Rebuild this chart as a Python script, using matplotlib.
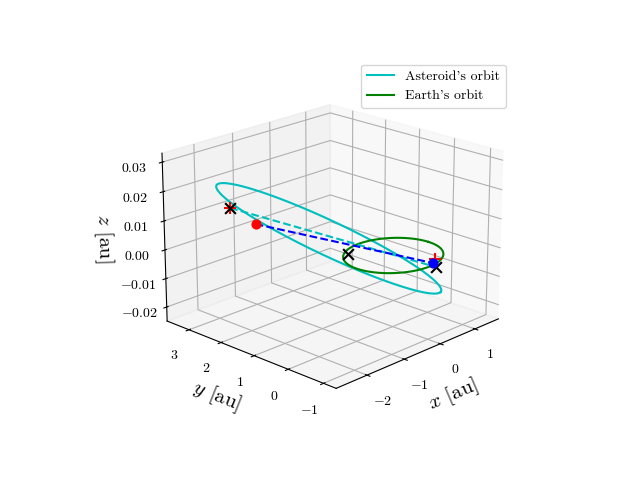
import numpy as np
import matplotlib.pyplot as plt

plt.rcParams["mathtext.fontset"] = "cm"
plt.rcParams["font.family"] = "serif"
plt.rcParams["font.serif"] = ["cmr10", "DejaVu Serif"]
plt.rcParams["axes.formatter.use_mathtext"] = True

# asteroid orbit shape (approximate)
a_ast = 2.25
e_ast = 0.57
peri_angle_deg = -54.0   # direction of perihelion in the xy plane
gz_u = -0.0078           # z slope along major axis [au/au]
gz_v = -0.004            # z slope along minor axis [au/au]
ast_z0 = -0.0048         # z offset of the orbit [au]

# marked positions
ast_start = [-2.05, 2.55, 0.0155]
ast_dot = [-1.78, 2.1, 0.0105]
mid_cross = [-0.62, 0.66, 0.0005]
earth_pos = [0.2, -0.92, 0.0]
ast_end_plus = [0.26, -0.92, 0.001]
ast_end_x = [0.22, -0.98, -0.0012]

# curves
nu = np.linspace(0, 2 * np.pi, 400)
r = a_ast * (1 - e_ast**2) / (1 + e_ast * np.cos(nu))
u = r * np.cos(nu)
v = r * np.sin(nu)
pa = np.radians(peri_angle_deg)
ast_x = u * np.cos(pa) - v * np.sin(pa)
ast_y = u * np.sin(pa) + v * np.cos(pa)
ast_z = gz_u * u + gz_v * v + ast_z0

ex = np.cos(nu)
ey = np.sin(nu)
ez = np.zeros_like(nu)

fig = plt.figure(figsize=(6.4, 4.8))
ax = fig.add_subplot(projection="3d")
ax.plot(ast_x, ast_y, ast_z, color="c", label="Asteroid's orbit")
ax.plot(ex, ey, ez, color="g", label="Earth's orbit")

ax.plot([ast_start[0], ast_end_x[0]], [ast_start[1], ast_end_x[1]],
        [ast_start[2], ast_end_x[2]], "c--")
ax.plot([ast_dot[0], earth_pos[0]], [ast_dot[1], earth_pos[1]],
        [ast_dot[2], earth_pos[2]], "b--")

ax.scatter(*ast_dot, color="r", s=40, depthshade=False)
ax.scatter(*earth_pos, color="b", s=40, depthshade=False)
ax.scatter(*ast_start, color="r", marker="+", s=80, depthshade=False)
ax.scatter(*ast_end_plus, color="r", marker="+", s=80, depthshade=False)
ax.scatter(*ast_start, color="k", marker="x", s=60, depthshade=False)
ax.scatter(*ast_end_x, color="k", marker="x", s=60, depthshade=False)
ax.scatter(*mid_cross, color="k", marker="x", s=60, depthshade=False)

ax.set_xlim(-2.8, 1.7)
ax.set_ylim(-1.35, 3.7)
ax.set_zlim(-0.025, 0.033)
ax.set_xlabel(r"$x$ [au]", fontsize=15)
ax.set_ylabel(r"$y$ [au]", fontsize=15)
ax.set_zlabel(r"$z$ [au]", fontsize=15)
ax.set_xticks([-2, -1, 0, 1])
ax.set_yticks([-1, 0, 1, 2, 3])
ax.set_zticks([-0.02, -0.01, 0.0, 0.01, 0.02, 0.03])
ax.set_zticklabels(["$-0.02$", "$-0.01$", "$0.00$", "$0.01$", "$0.02$", "$0.03$"])
ax.set_xticklabels(["$-2$", "$-1$", "$0$", "$1$"])
ax.set_yticklabels(["$-1$", "$0$", "$1$", "$2$", "$3$"])
ax.view_init(elev=20, azim=-136)
ax.legend(loc="upper right", prop={"size": 10})

plt.savefig("out.png", dpi=100)
